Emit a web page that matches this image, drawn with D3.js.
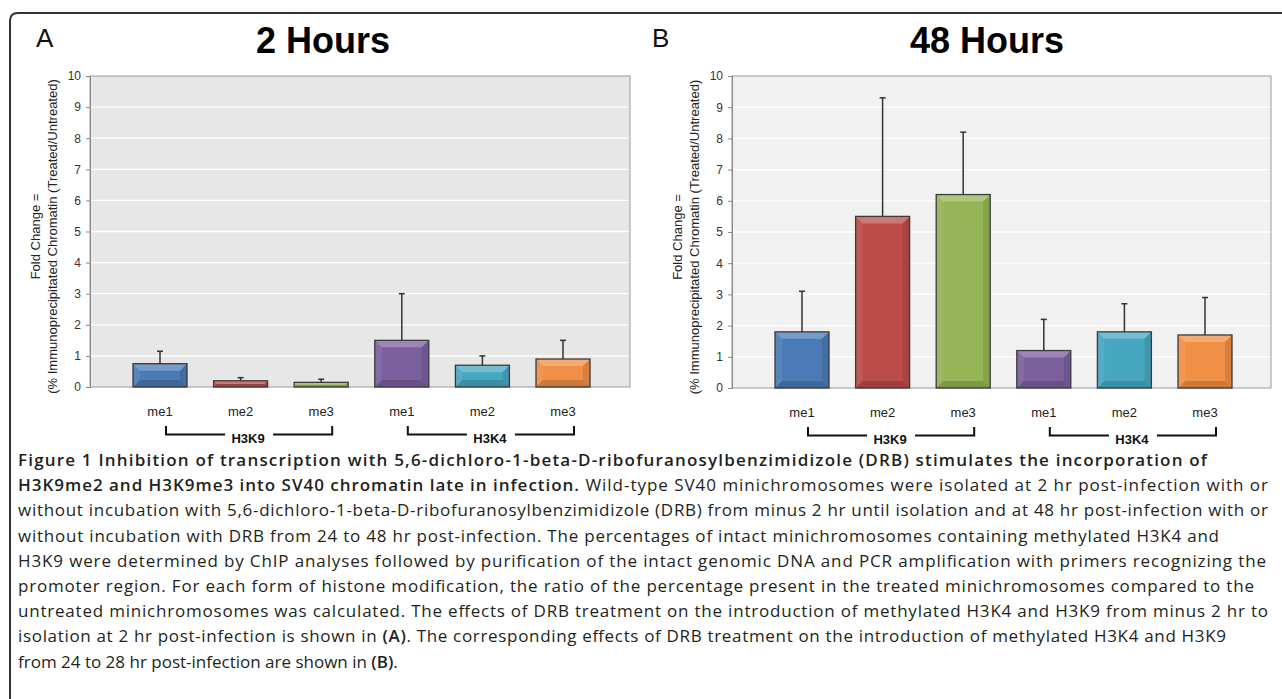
<!DOCTYPE html>
<html><head><meta charset="utf-8">
<script src="https://cdn.jsdelivr.net/npm/d3@7/dist/d3.min.js"></script>
<style>html,body{margin:0;padding:0;background:#fff;}svg{display:block;}</style>
</head><body>
<svg id="chart" width="1282" height="699"></svg>
<script>
// ---------- data ----------
const categories = ["H3K9 me1","H3K9 me2","H3K9 me3","H3K4 me1","H3K4 me2","H3K4 me3"];
const catLabels  = ["me1","me2","me3","me1","me2","me3"];
const groups     = ["H3K9","H3K4"];
const groupOf    = ["H3K9","H3K9","H3K9","H3K4","H3K4","H3K4"];
const valuesA    = [0.75, 0.2, 0.15, 1.5, 0.7, 0.9];     // 2 Hours
const errorsA    = [0.4, 0.1, 0.1, 1.5, 0.3, 0.6];
const valuesB    = [1.8, 5.5, 6.2, 1.2, 1.8, 1.7];       // 48 Hours
const errorsB    = [1.3, 3.8, 2.0, 1.0, 0.9, 1.2];
const barColors  = ["#4a7bb6","#bb4c49","#95b556","#7c5f9f","#47a7c1","#f08f46"];
const yTicks     = [0,1,2,3,4,5,6,7,8,9,10];
const titles     = ["2 Hours","48 Hours"];
const panelLetters = ["A","B"];
const yLabel1 = "Fold Change =";
const yLabel2 = "(% Immunoprecipitated Chromatin (Treated/Untreated)";
const captionLines = [
  [["Figure 1 Inhibition of transcription with 5,6-dichloro-1-beta-D-ribofuranosylbenzimidizole (DRB) stimulates the incorporation of", true]],
  [["H3K9me2 and H3K9me3 into SV40 chromatin late in infection.", true], [" Wild-type SV40 minichromosomes were isolated at 2 hr post-infection with or", false]],
  [["without incubation with 5,6-dichloro-1-beta-D-ribofuranosylbenzimidizole (DRB) from minus 2 hr until isolation and at 48 hr post-infection with or", false]],
  [["without incubation with DRB from 24 to 48 hr post-infection. The percentages of intact minichromosomes containing methylated H3K4 and", false]],
  [["H3K9 were determined by ChIP analyses followed by purification of the intact genomic DNA and PCR amplification with primers recognizing the", false]],
  [["promoter region. For each form of histone modification, the ratio of the percentage present in the treated minichromosomes compared to the", false]],
  [["untreated minichromosomes was calculated. The effects of DRB treatment on the introduction of methylated H3K4 and H3K9 from minus 2 hr to", false]],
  [["isolation at 2 hr post-infection is shown in ", false], ["(A)", true], [". The corresponding effects of DRB treatment on the introduction of methylated H3K4 and H3K9", false]],
  [["from 24 to 28 hr post-infection are shown in ", false], ["(B)", true], [".", false]]
];

// ---------- layout ----------
const captionLineEnds = [1207, 1268, 1268, 1219, 1266, 1254, 1268, 1226, null];
const chartFont = "'Liberation Sans', Arial, Helvetica, sans-serif";
const svg = d3.select("#chart");

// figure frame (top + left, rounded corner)
svg.append("path")
  .attr("d", "M10,699 L10,21 Q10,13 18,13 L1282,13")
  .attr("fill", "none").attr("stroke", "#333").attr("stroke-width", 2);

function drawPanel(cfg) {
  const g = svg.append("g");
  const y = d3.scaleLinear().domain([0, 10]).range([cfg.bottom, cfg.top]);
  const x = d3.scalePoint().domain(categories).range([cfg.left + 70, cfg.left + 473]);
  const bw = 54;

  g.append("rect").attr("x", cfg.left).attr("y", cfg.top)
    .attr("width", cfg.right - cfg.left).attr("height", cfg.bottom - cfg.top)
    .attr("fill", cfg.bg).attr("stroke", "#9a9a9a").attr("stroke-width", 1);

  g.selectAll(".grid").data(yTicks.filter(t => t > 0 && t < 10)).join("line")
    .attr("x1", cfg.left + 1).attr("x2", cfg.right - 1)
    .attr("y1", d => y(d)).attr("y2", d => y(d))
    .attr("stroke", "#ffffff").attr("stroke-width", 1.3);

  const ax = g.append("g").attr("transform", `translate(${cfg.left},0)`)
    .call(d3.axisLeft(y).tickValues(yTicks).tickSize(4).tickPadding(5).tickFormat(d3.format("d")));
  ax.select(".domain").attr("stroke", "#8a8a8a");
  ax.selectAll(".tick line").attr("stroke", "#8a8a8a");
  ax.selectAll(".tick text").attr("fill", "#333").style("font-family", chartFont).style("font-size", "12px");

  categories.forEach((c, i) => {
    const v = cfg.values[i];
    const x0 = x(c) - bw / 2, x1 = x(c) + bw / 2;
    const y0 = y(v), y1 = y(0);
    const bar = g.append("g");
    bar.append("rect").attr("x", x0).attr("y", y0).attr("width", bw).attr("height", y1 - y0)
      .attr("fill", barColors[i]);
    const b = Math.min(7, (y1 - y0) / 2, bw / 2);
    const poly = (pts, fill, op) => bar.append("polygon")
      .attr("points", pts.map(p => p.join(",")).join(" ")).attr("fill", fill).attr("opacity", op);
    poly([[x0,y0],[x1,y0],[x1-b,y0+b],[x0+b,y0+b]], "#fff", 0.25);
    poly([[x0,y1],[x1,y1],[x1-b,y1-b],[x0+b,y1-b]], "#000", 0.15);
    poly([[x0,y0],[x0+b,y0+b],[x0+b,y1-b],[x0,y1]], "#fff", 0.08);
    poly([[x1,y0],[x1-b,y0+b],[x1-b,y1-b],[x1,y1]], "#000", 0.10);
    bar.append("rect").attr("x", x0).attr("y", y0).attr("width", bw).attr("height", y1 - y0)
      .attr("fill", "none").attr("stroke", "#3a3a3a").attr("stroke-width", 1.3);
    const ye = y(v + cfg.errors[i]);
    bar.append("line").attr("x1", x(c)).attr("x2", x(c)).attr("y1", y0).attr("y2", ye)
      .attr("stroke", "#333").attr("stroke-width", 1.5);
    bar.append("line").attr("x1", x(c) - 3).attr("x2", x(c) + 3).attr("y1", ye).attr("y2", ye)
      .attr("stroke", "#333").attr("stroke-width", 1.5);
  });

  g.selectAll(".cat").data(categories).join("text")
    .attr("x", d => x(d)).attr("y", cfg.bottom + 29)
    .attr("text-anchor", "middle").attr("fill", "#222")
    .style("font-family", chartFont).style("font-size", "13px")
    .text((d, i) => catLabels[i]);

  groups.forEach(gr => {
    const members = categories.filter((c, i) => groupOf[i] === gr);
    const xl = x(members[0]) + 6, xr = x(members[members.length - 1]) + 11;
    const by = cfg.bottom + 47.5, bt = cfg.bottom + 39;
    const xm = (xl + xr) / 2;
    const half = 24;
    g.append("path")
      .attr("d", `M${xl},${bt} L${xl},${by} L${xm - half},${by} M${xm + half},${by} L${xr},${by} L${xr},${bt}`)
      .attr("fill", "none").attr("stroke", "#111").attr("stroke-width", 2);
    g.append("text").attr("x", xm - 1).attr("y", by + 8.5)
      .attr("text-anchor", "middle").attr("fill", "#111")
      .style("font-family", chartFont).style("font-size", "13px").style("font-weight", "bold")
      .text(gr);
  });

  const cy = (cfg.top + cfg.bottom) / 2 + 5;
  g.append("text").attr("transform", `translate(${cfg.left - 55},${cy}) rotate(-90)`)
    .attr("text-anchor", "middle").attr("dominant-baseline", "central").attr("fill", "#222")
    .style("font-family", chartFont).style("font-size", "13px").text(yLabel1);
  g.append("text").attr("transform", `translate(${cfg.left - 38},${cy}) rotate(-90)`)
    .attr("text-anchor", "middle").attr("dominant-baseline", "central").attr("fill", "#222")
    .style("font-family", chartFont).style("font-size", "13px").text(yLabel2);

  g.append("text").attr("x", cfg.titleX).attr("y", 53).attr("text-anchor", "middle")
    .attr("fill", "#000").style("font-family", chartFont).style("font-size", "36px")
    .style("font-weight", "bold").text(cfg.title);

  g.append("text").attr("x", cfg.letterX).attr("y", 47).attr("fill", "#111")
    .style("font-family", "'Liberation Sans Narrow', 'Arial Narrow', " + chartFont)
    .style("font-size", "26px").text(cfg.letter);
}

drawPanel({left: 90, right: 630, top: 76, bottom: 387, bg: "#e7e7e7",
  values: valuesA, errors: errorsA, title: titles[0], titleX: 323, letter: panelLetters[0], letterX: 36});
drawPanel({left: 732, right: 1271, top: 76, bottom: 388, bg: "#f1f1f1",
  values: valuesB, errors: errorsB, title: titles[1], titleX: 987, letter: panelLetters[1], letterX: 652});

// caption
const cap = svg.append("g").style("font-family", "'Open Sans', 'Noto Sans', sans-serif")
  .style("font-size", "17px").attr("fill", "#231f20");
captionLines.forEach((segs, i) => {
  const t = cap.append("text").attr("x", 18).attr("y", 466 + i * 25.2);
  if (captionLineEnds[i]) t.attr("textLength", captionLineEnds[i] - 18).attr("lengthAdjust", "spacing");
  segs.forEach(s => {
    t.append("tspan").style("font-weight", s[1] ? "600" : "400").text(s[0]);
  });
});
</script>
</body></html>
